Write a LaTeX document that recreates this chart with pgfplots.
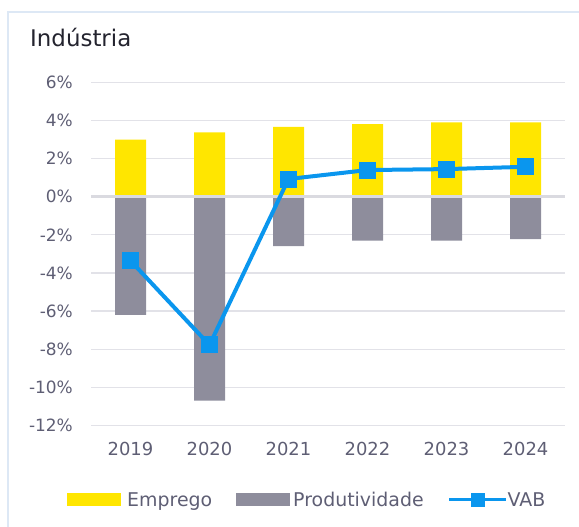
\documentclass[border=0pt]{standalone}
\usepackage{pgfplots}
\pgfplotsset{compat=1.18}
\usepackage{fontspec}
\setmainfont{DejaVu Sans}
\definecolor{eyyellow}{HTML}{FFE600}
\definecolor{eygray}{HTML}{8E8D9C}
\definecolor{vabblue}{HTML}{0A96EE}
\definecolor{ticktext}{HTML}{5E5E74}
\definecolor{titletext}{HTML}{23232E}
\definecolor{gridcol}{HTML}{E2E2E8}
\definecolor{zerocol}{HTML}{DADAE0}
\definecolor{framecol}{HTML}{DDE8F5}
\begin{document}
\begin{tikzpicture}[x=1bp,y=1bp]
\path[use as bounding box] (0,0) rectangle (579,527);
\draw[framecol, line width=1.5bp] (8,0) -- (8,515) -- (579,515);
\node[anchor=base west, inner sep=0pt, font=\fontsize{23}{27}\selectfont, text=titletext] at (30,480) {Indústria};
\begin{axis}[
  at={(91bp,101.6bp)}, anchor=south west,
  scale only axis, width=474bp, height=343bp,
  xmin=-0.5, xmax=5.5, ymin=-12, ymax=6,
  axis line style={draw=none},
  tick style={draw=none}, major tick length=0pt,
  xtick={0,1,2,3,4,5},
  xticklabels={2019,2020,2021,2022,2023,2024},
  ytick={-12,-10,-8,-6,-4,-2,0,2,4,6},
  yticklabels={-12\%,-10\%,-8\%,-6\%,-4\%,-2\%,0\%,2\%,4\%,6\%},
  yticklabel style={anchor=east, inner sep=0pt, xshift=-18bp, font=\fontsize{17}{20}\selectfont, text=ticktext},
  xticklabel style={anchor=base, inner sep=0pt, yshift=-30.6bp, font=\fontsize{18}{21}\selectfont, text=ticktext},
  ymajorgrids, major grid style={gridcol, line width=1.3bp},
  legend columns=3,
  legend style={at={(-0.0506,-0.2175)}, anchor=west, draw=none, fill=none, inner sep=0pt,
    font=\fontsize{19}{23}\selectfont, text=ticktext,
    nodes={inner sep=0pt, anchor=base west},
    /tikz/every even column/.append style={column sep=24bp}},
]
\addplot[ybar, bar width=31bp, bar shift=0pt, fill=eyyellow, draw=none,
  legend image code/.code={\fill[eyyellow] (0bp,0bp) rectangle (54bp,13.3bp); \path (60bp,0bp);}]
  coordinates {(0,3.0) (1,3.38) (2,3.67) (3,3.81) (4,3.9) (5,3.9)};
\addlegendentry{Emprego}
\addplot[ybar, bar width=31bp, bar shift=0pt, fill=eygray, draw=none,
  legend image code/.code={\fill[eygray] (0bp,0bp) rectangle (54bp,13.3bp); \path (57bp,0bp);}]
  coordinates {(0,-6.2) (1,-10.7) (2,-2.59) (3,-2.31) (4,-2.31) (5,-2.22)};
\addlegendentry{Produtividade}
\addplot[zerocol, line width=3.5bp, forget plot] coordinates {(-0.5,0) (5.5,0)};
\addplot[vabblue, line width=4bp, mark=square*, mark size=6.5bp, mark options={solid, fill=vabblue},
  legend image code/.code={\draw[vabblue, line width=3bp] (0bp,6.5bp) -- (57bp,6.5bp); \fill[vabblue] (23.5bp,1.5bp) rectangle (33.5bp,11.5bp);}]
  coordinates {(0,-3.36) (1,-7.78) (2,0.93) (3,1.40) (4,1.45) (5,1.57)};
\addlegendentry{VAB}
\end{axis}
\end{tikzpicture}
\end{document}
